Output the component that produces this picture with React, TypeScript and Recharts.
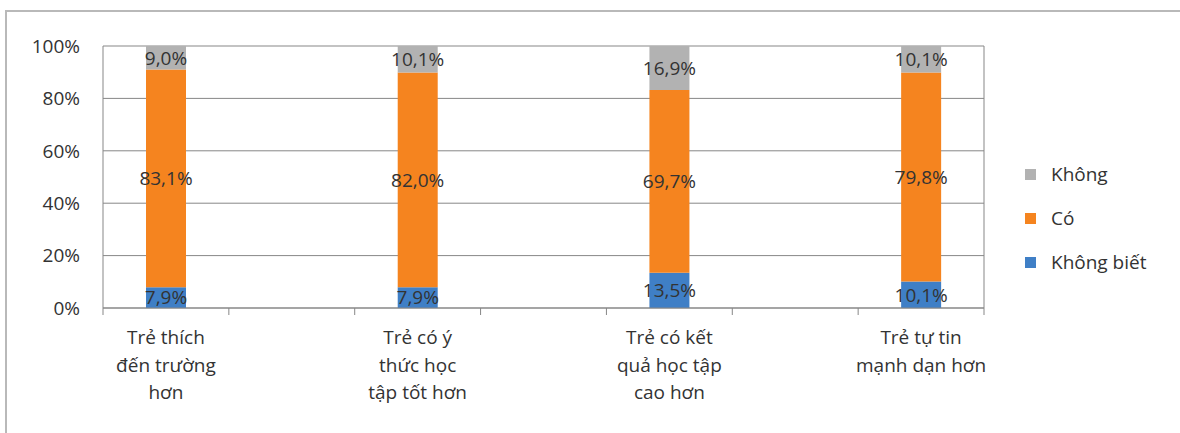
import React from "react";
import {
  BarChart,
  Bar,
  XAxis,
  YAxis,
  CartesianGrid,
  Legend,
  LabelList,
} from "recharts";

// bars sit in alternate slots, with empty spacer slots between them
const categories = ["c1", "s1", "c2", "s2", "c3", "s3", "c4"];
const categoryLines: Record<string, string[]> = {
  c1: ["Trẻ thích", "đến trường", "hơn"],
  c2: ["Trẻ có ý", "thức học", "tập tốt hơn"],
  c3: ["Trẻ có kết", "quả học tập", "cao hơn"],
  c4: ["Trẻ tự tin", "mạnh dạn hơn"],
};

const khongBiet = [7.9, null, 7.9, null, 13.5, null, 10.1];
const co = [83.1, null, 82.0, null, 69.7, null, 79.8];
const khong = [9.0, null, 10.1, null, 16.9, null, 10.1];

const yTicks = [0, 20, 40, 60, 80, 100];
const yDomain = [0, 100];

const series = [
  { key: "khongBiet", name: "Không biết", color: "#3f7fc6" },
  { key: "co", name: "Có", color: "#f5841f" },
  { key: "khong", name: "Không", color: "#b2b2b2" },
];

const data = categories.map((key, i) => ({
  key,
  khongBiet: khongBiet[i],
  co: co[i],
  khong: khong[i],
}));

const FONT = "'Open Sans', sans-serif";
const TEXT = "#333333";
const LINE = "#878787";
const SIZE = 19;

const fmt = (v: any) =>
  v == null ? "" : `${Number(v).toFixed(1).replace(".", ",")}%`;
const pct = (v: any) => `${v}%`;
const yTickStyle = { fill: TEXT, fontSize: SIZE, fontFamily: FONT };

// right-hand frame line of the plot area
const rightEdge = ({ offset }: any) => [offset.left + offset.width];

// label lines plus tick marks on the band edges (Excel-style "between" ticks)
function CategoryTick(props: any) {
  const { x, y, payload, index } = props;
  const half = payload.offset || 0;
  const last = index === categories.length - 1;
  const lines = categoryLines[payload.value] || [];
  return (
    <g>
      <line x1={x - half} x2={x - half} y1={y} y2={y + 7} stroke={LINE} />
      {last && (
        <line x1={x + half} x2={x + half} y1={y} y2={y + 7} stroke={LINE} />
      )}
      <text
        x={x}
        y={y}
        textAnchor="middle"
        fill={TEXT}
        fontSize={SIZE}
        fontFamily={FONT}
      >
        {lines.map((t, i) => (
          <tspan key={i} x={x} dy={i === 0 ? 36 : 27.5}>
            {t}
          </tspan>
        ))}
      </text>
    </g>
  );
}
const categoryTick = <CategoryTick />;

function SideLegend() {
  const items = [...series].reverse();
  return (
    <div style={{ fontFamily: FONT, fontSize: SIZE, color: TEXT }}>
      {items.map((s) => (
        <div
          key={s.key}
          style={{ display: "flex", alignItems: "center", height: 44 }}
        >
          <span
            style={{
              display: "inline-block",
              width: 11,
              height: 11,
              background: s.color,
              marginRight: 15,
            }}
          />
          {s.name}
        </div>
      ))}
    </div>
  );
}
const legendContent = () => <SideLegend />;
const legendStyle = { left: 1025, top: 152, width: 150 };

export default function App() {
  return (
    <div
      style={{
        position: "absolute",
        left: 0,
        top: 0,
        width: 1180,
        height: 433,
        background: "#fff",
        overflow: "hidden",
      }}
    >
      <div
        style={{
          position: "absolute",
          left: 5,
          top: 10,
          width: 1200,
          height: 460,
          border: "2px solid #b9b9b9",
          boxSizing: "border-box",
        }}
      />
      <div style={{ position: "absolute", left: 0, top: 0 }}>
        <BarChart
          width={1180}
          height={433}
          data={data}
          margin={{ top: 46, right: 196, bottom: 0, left: 13 }}
          barSize={40}
        >
          <CartesianGrid
            stroke={LINE}
            verticalCoordinatesGenerator={rightEdge}
          />
          <XAxis
            dataKey="key"
            type="category"
            stroke={LINE}
            tickLine={false}
            tickSize={0}
            tickMargin={0}
            interval={0}
            height={125}
            tick={categoryTick}
          />
          <YAxis
            domain={yDomain}
            ticks={yTicks}
            allowDataOverflow
            tickFormatter={pct}
            tickLine={false}
            tickSize={0}
            tickMargin={23}
            width={90}
            stroke={LINE}
            tick={yTickStyle}
          />
          <Legend
            layout="horizontal"
            align="center"
            verticalAlign="middle"
            content={legendContent}
            wrapperStyle={legendStyle}
          />
          {series.map((s) => (
            <Bar
              key={s.key}
              dataKey={s.key}
              name={s.name}
              stackId="a"
              fill={s.color}
              isAnimationActive={false}
            >
              <LabelList
                dataKey={s.key}
                position="center"
                formatter={fmt}
                fill={TEXT}
                fontSize={SIZE}
                fontFamily={FONT}
              />
            </Bar>
          ))}
        </BarChart>
      </div>
    </div>
  );
}
